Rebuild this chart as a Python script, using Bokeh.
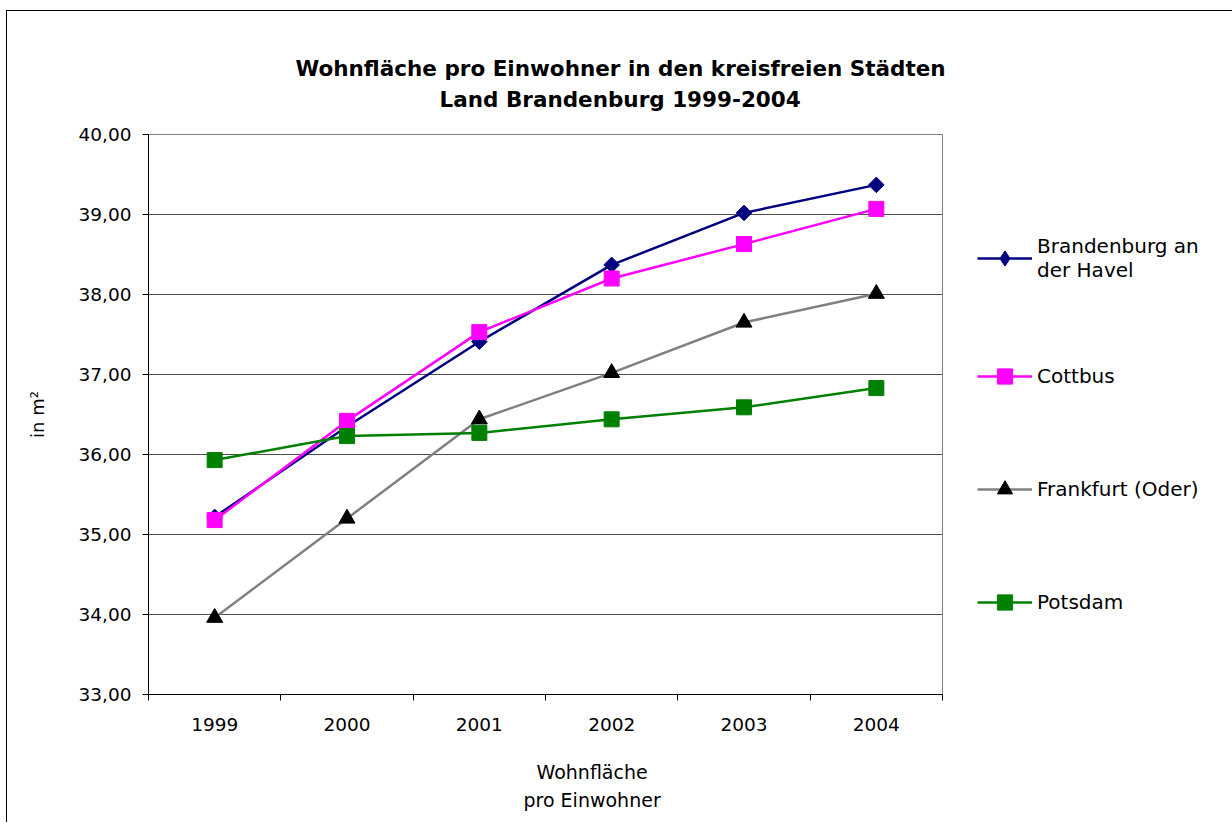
import numpy as np
from bokeh.plotting import figure
from bokeh.models import (Range1d, FixedTicker, CustomJSTickFormatter, Legend,
                          LegendItem, Title)
from bokeh.embed import file_html
from bokeh.resources import INLINE

# ---------------- data ----------------
years = ["1999", "2000", "2001", "2002", "2003", "2004"]
brandenburg = [35.22, 36.35, 37.41, 38.37, 39.02, 39.37]
cottbus = [35.18, 36.42, 37.53, 38.20, 38.63, 39.07]
frankfurt = [33.96, 35.20, 36.44, 37.02, 37.65, 38.01]
potsdam = [35.93, 36.23, 36.27, 36.44, 36.59, 36.83]
y_ticks = [33, 34, 35, 36, 37, 38, 39, 40]

title_lines = ["Wohnfläche pro Einwohner in den kreisfreien Städten",
               "Land Brandenburg 1999-2004"]
x_title_lines = ["Wohnfläche", "pro Einwohner"]
y_title = "in m²"
labels = ["Brandenburg an\nder Havel", "Cottbus", "Frankfurt (Oder)", "Potsdam"]

FONT = "DejaVu Sans"
xs = np.arange(len(years)) + 0.5

p = figure(frame_width=794, frame_height=560, title=None,
           x_range=Range1d(0, len(years)), y_range=Range1d(y_ticks[0], y_ticks[-1]),
           output_backend="svg", toolbar_location=None,
           min_border_left=141, min_border_right=289,
           min_border_top=123, min_border_bottom=128,
           background_fill_color="white", border_fill_color="white")
p.margin = (10, 0, 0, 6)
p.styles = {"border-top": "1px solid black", "border-left": "1px solid black"}

# title: two centred lines (closest to frame first)
t2 = Title(text=title_lines[1], align="left", offset=291, text_font=FONT,
           text_font_size="21.5px", text_font_style="bold", text_color="black",
           standoff=45)
t1 = Title(text=title_lines[0], align="left", offset=147, text_font=FONT,
           text_font_size="21.5px", text_font_style="bold", text_color="black",
           standoff=-36)
p.add_layout(t2, "above")
p.add_layout(t1, "above")

# x axis title as two centred lines below the axis
xt1 = Title(text=x_title_lines[0], align="left", offset=388, text_font=FONT,
            text_font_size="19px", text_font_style="normal", text_color="black",
            standoff=50)
xt2 = Title(text=x_title_lines[1], align="left", offset=375, text_font=FONT,
            text_font_size="19px", text_font_style="normal", text_color="black",
            vertical_align="top", standoff=-38)
p.add_layout(xt1, "below")
p.add_layout(xt2, "below")

p.outline_line_color = "#808080"
p.outline_line_width = 1

# grid
p.xgrid.visible = False
p.ygrid.ticker = FixedTicker(ticks=y_ticks)
p.ygrid.grid_line_color = "#505050"
p.ygrid.grid_line_width = 1

# y axis
ya = p.yaxis[0]
ya.ticker = FixedTicker(ticks=y_ticks, minor_ticks=[])
ya.formatter = CustomJSTickFormatter(code="return tick.toFixed(2).replace('.', ',');")
ya.major_tick_in = 0
ya.major_tick_out = 6
ya.minor_tick_out = 0
ya.minor_tick_in = 0
ya.axis_line_color = "black"
ya.major_tick_line_color = "black"
ya.major_label_text_font = FONT
ya.major_label_text_font_size = "18.5px"
ya.major_label_text_color = "black"
ya.major_label_standoff = 11
ya.axis_label = y_title
ya.axis_label_text_font = FONT
ya.axis_label_text_font_size = "18px"
ya.axis_label_text_font_style = "normal"
ya.axis_label_text_color = "black"
ya.axis_label_standoff = 28

# x axis
xa = p.xaxis[0]
xa.ticker = FixedTicker(ticks=list(xs), minor_ticks=list(range(len(years) + 1)))
xa.formatter = CustomJSTickFormatter(args=dict(years=years),
                                     code="return years[Math.floor(tick)];")
xa.major_tick_in = 0
xa.major_tick_out = 0
xa.major_tick_line_color = None
xa.minor_tick_in = 0
xa.minor_tick_out = 6
xa.minor_tick_line_color = "black"
xa.axis_line_color = "black"
xa.major_label_text_font = FONT
xa.major_label_text_font_size = "18.5px"
xa.major_label_text_color = "black"
xa.major_label_standoff = 17

# series
LW = 2.5
r1 = p.line(xs, brandenburg, line_color="#000080", line_width=LW)
m1 = p.scatter(xs, brandenburg, marker="square", angle=np.pi / 4, size=11,
               fill_color="#000080", line_color="#000080")
m1_key = p.scatter(xs, brandenburg, marker="diamond", size=15, visible=False,
                   fill_color="#000080", line_color="#000080")
r2 = p.line(xs, cottbus, line_color="#FF00FF", line_width=LW)
m2 = p.scatter(xs, cottbus, marker="square", size=15,
               fill_color="#FF00FF", line_color="#FF00FF")
r3 = p.line(xs, frankfurt, line_color="#808080", line_width=LW)
m3 = p.scatter(xs, frankfurt, marker="triangle", size=16,
               fill_color="black", line_color="black")
r4 = p.line(xs, potsdam, line_color="#008000", line_width=LW)
m4 = p.scatter(xs, potsdam, marker="square", size=15,
               fill_color="#008000", line_color="#008000")

legend = Legend(items=[LegendItem(label=labels[0], renderers=[r1, m1_key]),
                       LegendItem(label=labels[1], renderers=[r2, m2]),
                       LegendItem(label=labels[2], renderers=[r3, m3]),
                       LegendItem(label=labels[3], renderers=[r4, m4])],
                location=(35, 73), border_line_color=None, background_fill_alpha=0,
                padding=0, margin=0, glyph_width=55, glyph_height=38,
                label_height=38, label_standoff=5, spacing=75,
                label_text_font=FONT, label_text_font_size="20px",
                label_text_color="black")
p.add_layout(legend, "right")

open("out.html", "w", encoding="utf-8").write(file_html(p, INLINE))
